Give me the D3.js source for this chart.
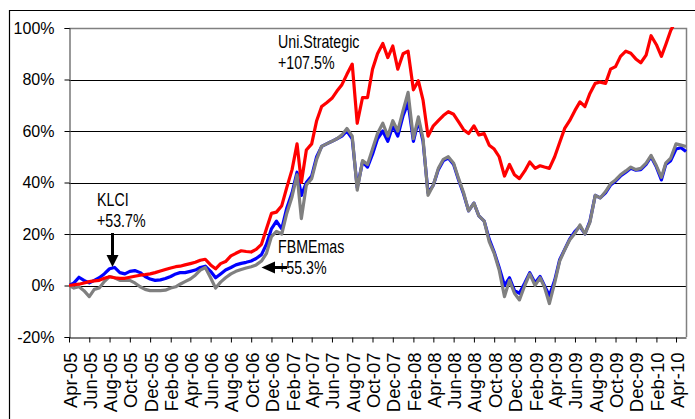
<!DOCTYPE html>
<html><head><meta charset="utf-8">
<script src="https://cdn.jsdelivr.net/npm/d3@7/dist/d3.min.js"></script>
<style>body{margin:0;background:#fff}svg{display:block}</style>
</head><body>
<svg id="c" width="695" height="419"></svg>
<script>
const xTickLabels = ["Apr-05","Jun-05","Aug-05","Oct-05","Dec-05","Feb-06","Apr-06","Jun-06","Aug-06","Oct-06","Dec-06",
  "Feb-07","Apr-07","Jun-07","Aug-07","Oct-07","Dec-07","Feb-08","Apr-08","Jun-08","Aug-08","Oct-08","Dec-08",
  "Feb-09","Apr-09","Jun-09","Aug-09","Oct-09","Dec-09","Feb-10","Apr-10"];
const yTicks = [-20, 0, 20, 40, 60, 80, 100];

// semi-monthly readings (1st and 16th of each month), % change since Apr-05
const uniStrategic = [0,0.3,0.5,1,1.5,1.8,2,2.8,3.4,3,2.8,2.8,3.2,3.6,4,4.2,4.5,5,5.6,6.2,
  6.8,7.3,7.5,8,8.5,9,9.8,10.2,8,6.5,8.5,9.3,11.5,12.5,13.5,13.2,13,14,16,22,
  28,28.5,31,38,45,55,40,52.6,55,64,69.5,71,72.7,75.5,78,82,86,63,73,73,
  84,90,94,88.5,93,84,90,91,76,79.5,72,58,62,64,66,67.5,66.5,63.5,60.5,59,
  62,58.5,59,54.5,53,50,42.5,47,43,41.5,44.5,48,45.5,46.5,46,45.5,50,55.5,61,64,
  68,71.3,69.5,74.6,78.5,79,78.5,84,85,89,91,90.2,88,86.5,89.5,97,93.5,89,93.5,99,
  103,106,107.5];
const klci = [0,1,3.2,2,1,2,3,4.5,6.5,7,5,4.5,5.5,5.8,5,3.5,2.5,2,2.2,2.7,
  3.5,4.5,5,5,5.5,6,7,7.5,5.5,3,4.5,6,7,8,8.6,9,9.5,10.5,12,16,
  22,25,22,30,36,44,35,40,42.5,50,54,55,56,57,58,60,57,38,48,46,
  51,57,60,56,62,58,66,71,56,64,56,36,39,45,48.5,49.5,47,41,35.5,29,
  32,27,25,18,13,7,0,3,-2,-3,1,5,1,3.5,0,-4,2,10,14,18,
  21,23,20,25,35,34,36,39,40.5,42.5,44,45.5,44.8,45,47,50,46,41,47,48.5,
  53,53.5,52];
const fbmEmas = [0,-1,-0.5,-2,-4.3,-1.5,-1,1.5,3.5,3,2,2,2,1,-0.5,-1.5,-2,-2,-2,-1.8,
  -1,-0.5,0.5,1.5,2.5,4,6,7,3,-1,1.3,3,4.5,5.5,6.2,6.8,7.3,8,9.5,12.5,
  19,21,20,28,34.5,43,26,39,41.5,49,54,55,56,57,58.5,61,58,37,48.5,47,
  53,59,63,58,64,60,68,75,57,65.5,57,35,39,45.5,49,50,47.5,41.5,36,29,
  32,27,25,17,12.5,6,-4.3,2,-3,-5.6,0,4.5,0,3,-0.5,-7,1,9.5,13.8,17.7,
  20.3,23.5,20,24.5,35,34,36.5,39.5,41,43,44.5,46,45,45.5,47.5,50.5,46.5,42,47.5,49.5,
  55,54.5,54];
const dates = d3.range(uniStrategic.length).map(k => new Date(2005, 3 + Math.floor(k / 2), k % 2 ? 16 : 1));
const annotations = [
  {lines: ["Uni.Strategic", "+107.5%"], x: 278, y: 48},
  {lines: ["KLCI", "+53.7%"], x: 97, y: 206},
  {lines: ["FBMEmas", "+55.3%"], x: 278, y: 253}
];

const svg = d3.select("#c");
const L = 69, R = 686, T = 28, B = 337;
const x = d3.scaleTime().domain([new Date(2005, 3, 1), new Date(2010, 4, 1)]).range([L, R]);
const y = d3.scaleLinear().domain([-20, 100]).range([B, T]);
const font = "'Liberation Sans', Arial, sans-serif";

// outer frame
svg.append("path").attr("d", "M9.5,419V10.5H695").attr("fill", "none").attr("stroke", "#000").attr("stroke-width", 1.2);

// gridlines
svg.append("g").selectAll("line").data(yTicks.filter(v => v > -20 && v < 100)).join("line")
  .attr("x1", L).attr("x2", R).attr("y1", d => Math.round(y(d)) + 0.5).attr("y2", d => Math.round(y(d)) + 0.5)
  .attr("stroke", "#000").attr("stroke-width", 1);

// plot border top/right grey
svg.append("path").attr("d", `M${L},${T + 0.5}H${R + 0.5}V${B}`).attr("fill", "none").attr("stroke", "#808080").attr("stroke-width", 1.5);

// y axis
const yAxis = d3.axisLeft(y).tickValues(yTicks).tickFormat(d => d + "%").tickSize(5).tickPadding(10);
const gy = svg.append("g").attr("transform", `translate(${L + 0.5},0)`).call(yAxis);
gy.select(".domain").attr("stroke", "#555").attr("stroke-width", 1.2);
gy.selectAll(".tick line").attr("stroke", "#000");
gy.selectAll("text").attr("font-family", font).attr("font-size", "16px").attr("fill", "#000");

// x axis
const parseTick = d3.timeParse("%b-%y");
const xAxis = d3.axisBottom(x).tickValues(xTickLabels.map(parseTick)).tickFormat((d, i) => xTickLabels[i]).tickSize(5).tickSizeOuter(0);
const gx = svg.append("g").attr("transform", `translate(0,${B + 0.5})`).call(xAxis);
gx.select(".domain").attr("stroke", "#000").attr("stroke-width", 1.2);
gx.selectAll(".tick line").attr("stroke", "#000");
gx.selectAll("text").attr("font-family", font).attr("font-size", "18.5px").attr("fill", "#000")
  .attr("transform", "rotate(-90)").attr("text-anchor", "end").attr("x", -15).attr("y", 0).attr("dy", "0.38em");

// clip
svg.append("clipPath").attr("id", "clip").append("rect").attr("x", L).attr("y", T - 1).attr("width", R - L + 1).attr("height", B - T + 1);

const line = d3.line().x((d, i) => x(dates[i])).y(d => y(d));
const series = [
  {values: klci, color: "#0000FF"},
  {values: fbmEmas, color: "#808080"},
  {values: uniStrategic, color: "#FF0000"}
];
svg.append("g").attr("clip-path", "url(#clip)").selectAll("path").data(series).join("path")
  .attr("d", d => line(d.values)).attr("fill", "none").attr("stroke", d => d.color)
  .attr("stroke-width", 3.2).attr("stroke-linejoin", "round");

// annotations
annotations.forEach(a => {
  const t = svg.append("text").attr("font-family", font).attr("font-size", "18px").attr("fill", "#000")
    .attr("transform", `translate(${a.x},${a.y}) scale(0.79,1)`);
  a.lines.forEach((s, i) => t.append("tspan").attr("x", 0).attr("y", i * 21.5).text(s));
});

// arrows
svg.append("line").attr("x1", 112.5).attr("x2", 112.5).attr("y1", 233).attr("y2", 256).attr("stroke", "#000").attr("stroke-width", 3);
svg.append("path").attr("d", "M106.5,255L118.5,255L112.5,267Z").attr("fill", "#000");
svg.append("line").attr("x1", 287).attr("x2", 273).attr("y1", 267.5).attr("y2", 267.5).attr("stroke", "#000").attr("stroke-width", 3);
svg.append("path").attr("d", "M275,261.5L275,273.5L261.5,267.5Z").attr("fill", "#000");
</script>
</body></html>
